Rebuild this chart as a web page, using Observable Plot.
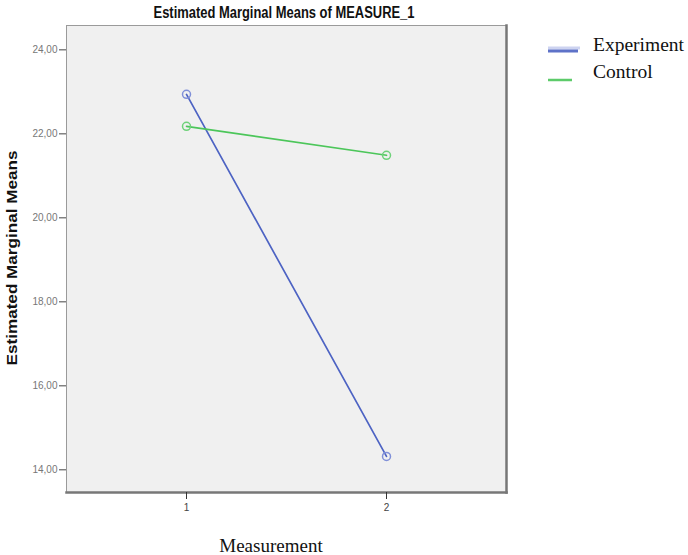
<!DOCTYPE html>
<html>
<head>
<meta charset="utf-8">
<script src="https://cdn.jsdelivr.net/npm/d3@7"></script>
<script src="https://cdn.jsdelivr.net/npm/@observablehq/plot@0.6"></script>
<style>
  html, body { margin: 0; padding: 0; background: #fff; }
  #wrap { position: relative; width: 688px; height: 555px; overflow: hidden; }
  #wrap > svg { position: absolute; left: 0; top: 0; }
  #legend { position: absolute; left: 548px; top: 34px; font-family: "Liberation Serif", "Times New Roman", serif; font-size: 19.5px; color: #111; }
  .li { position: absolute; white-space: nowrap; }
  .li svg { position: absolute; left: 0; }
  .li span { position: absolute; left: 45px; top: 0; }
</style>
</head>
<body>
<div id="wrap">
  <div id="legend"></div>
</div>
<script>
const measurements = [1, 2];
const groups = ["Experiment", "Control"];
const experimentMeans = [22.94, 14.32];
const controlMeans = [22.18, 21.49];
const yTicks = [14, 16, 18, 20, 22, 24];
const xTicks = [1, 2];
const titleText = "Estimated Marginal Means of MEASURE_1";
const xLabel = "Measurement";
const yLabel = "Estimated Marginal Means";
const colors = ["#4d63c3", "#4cc65a"];
const dotColors = ["#8090d8", "#6fd27a"];

const data = [];
measurements.forEach((m, i) => {
  data.push({measurement: m, group: groups[0], mean: experimentMeans[i]});
  data.push({measurement: m, group: groups[1], mean: controlMeans[i]});
});

const fmt = d => d3.format(".2f")(d).replace(".", ",");

const chart = Plot.plot({
  width: 688,
  height: 555,
  marginLeft: 66,
  marginRight: 182,
  marginTop: 25,
  marginBottom: 63,
  style: {fontFamily: "Liberation Sans, Arial, sans-serif", background: "transparent", overflow: "visible"},
  x: {domain: [0.4, 2.6], ticks: xTicks},
  y: {domain: [13.46, 24.58], ticks: yTicks},
  color: {domain: groups, range: colors},
  marks: [
    Plot.frame({fill: "#f0f0f0", stroke: "#9a9a9a", strokeWidth: 1}),
    Plot.frame({anchor: "bottom", stroke: "#777", strokeWidth: 2.5}),
    Plot.frame({anchor: "right", stroke: "#777", strokeWidth: 2.5}),
    Plot.axisY({ticks: yTicks, tickFormat: fmt, tickSize: 7, tickPadding: 2, fontSize: 10, color: "#777", stroke: "#444", label: null}),
    Plot.axisX({ticks: xTicks, tickFormat: d => String(d), tickSize: 7, tickPadding: 4, fontSize: 10, color: "#444", stroke: "#333", label: null}),
    Plot.line(data, {x: "measurement", y: "mean", z: "group", stroke: "group", strokeWidth: 1.7}),
    Plot.dot(data, {x: "measurement", y: "mean", r: 4, fill: "none", stroke: d => dotColors[groups.indexOf(d.group)], strokeWidth: 1.5})
  ]
});
document.getElementById("wrap").prepend(chart);

// Titles and axis labels
const svg = d3.select(chart);
svg.append("text")
  .attr("x", 284).attr("y", 18)
  .attr("text-anchor", "middle")
  .attr("textLength", 261).attr("lengthAdjust", "spacingAndGlyphs")
  .style("font-family", "Liberation Sans, Arial, sans-serif")
  .style("font-weight", "bold").style("font-size", "16px").style("fill", "#111")
  .text(titleText);
svg.append("text")
  .attr("transform", "translate(17,258) rotate(-90)")
  .attr("text-anchor", "middle")
  .attr("textLength", 215).attr("lengthAdjust", "spacingAndGlyphs")
  .style("font-family", "Liberation Sans, Arial, sans-serif")
  .style("font-weight", "bold").style("font-size", "15.5px").style("fill", "#111")
  .text(yLabel);
svg.append("text")
  .attr("x", 271).attr("y", 552)
  .attr("text-anchor", "middle")
  .style("font-family", "Liberation Serif, Times New Roman, serif")
  .style("font-size", "19px").style("fill", "#111")
  .text(xLabel);

const legend = document.getElementById("legend");
groups.forEach((g, i) => {
  const item = document.createElement("div");
  item.className = "li";
  item.style.top = (i * 27) + "px";
  const lineY = i === 0 ? 17 : 19;
  item.innerHTML = `<svg width="34" height="26" style="top:0px">${i === 0 ? `<line x1="0" x2="32" y1="${lineY - 3}" y2="${lineY - 3}" stroke="#cdd3f0" stroke-width="3"/>` : ""}<line x1="0" x2="${i === 0 ? 30 : 24}" y1="${lineY}" y2="${lineY}" stroke="${colors[i]}" stroke-width="${i === 0 ? 3 : 2.5}" opacity="0.9"/></svg><span>${g}</span>`;
  legend.appendChild(item);
});
</script>
</body>
</html>
